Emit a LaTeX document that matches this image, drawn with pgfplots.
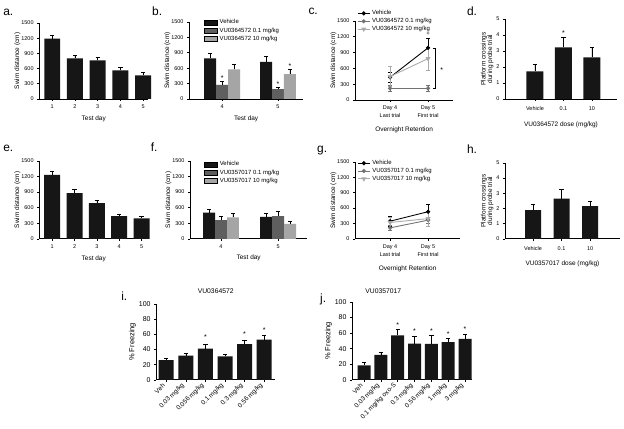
\documentclass[border=0pt]{standalone}
\usepackage{fontspec}
\setmainfont{Liberation Sans}
\usepackage{pgfplots}
\pgfplotsset{compat=1.18}

\definecolor{barblack}{RGB}{22,22,22}
\definecolor{dgray}{RGB}{95,95,95}
\definecolor{lgray}{RGB}{165,165,165}
\definecolor{lgray2}{RGB}{170,170,170}
\definecolor{mgray}{RGB}{115,115,115}

\newcommand{\fs}[1]{\fontsize{#1}{#1}\selectfont}

\pgfplotsset{
  panel/.style={scale only axis, anchor=south west, clip=false,
    axis x line*=bottom, axis y line*=left,
    axis line style={black, line width=0.9pt},
    every tick/.style={black, line width=0.6pt},
    major tick length=2.2bp, tick align=outside,
    ymin=0,
    /pgf/number format/assume math mode=true,
    /pgf/number format/set thousands separator={},
    tick label style={font=\fs{5.5}},
    label style={font=\fs{6.5}},
  },
  swim/.style={panel, ymax=1500, ytick={0,300,...,1500}, ylabel={Swim distance (cm)}, ylabel shift=-6bp},
  ebar/.style={error bars/.cd, y dir=plus, y explicit,
    error bar style={black, line width=0.6pt},
    error mark options={rotate=90, black, mark size=2.2bp, line width=0.6pt},
    /pgfplots/.cd},
  ebar2/.style={error bars/.cd, y dir=both, y explicit,
    error bar style={line width=0.6pt},
    error mark options={rotate=90, mark size=2bp, line width=0.6pt},
    /pgfplots/.cd},
  boxleg/.style={legend image code/.code={\fill[##1] (0bp,-2.6bp) rectangle (13bp,2.6bp);}},
  lineleg/.style={legend image code/.code={\draw[##1,mark repeat=2,mark phase=2] plot coordinates {(0bp,0bp) (6bp,0bp) (12bp,0bp)};}},
}

\begin{document}
\begin{tikzpicture}
\fill[white] (0,0) rectangle (624bp,-429bp);

% a. acquisition, VU0364572 cohort
\begin{axis}[swim, at={(39bp,-99bp)}, width=109bp, height=76bp,
  xmin=0.43, xmax=5.22, xtick={1,...,5}, xlabel={Test day}]
\addplot[ybar, bar width=16bp, fill=barblack, draw=none, ebar]
  table[x=x, y=y, y error=e] {
x y e
1 1190 65
2 800 65
3 760 60
4 565 65
5 465 65
};
\end{axis}

% b. VU0364572 days 4-5 (groups: -0.214 / 0 / +0.214 around the day)
\begin{axis}[swim, at={(189bp,-99bp)}, width=114bp, height=77bp,
  xmin=3.41, xmax=5.45, xtick={4,5}, xlabel={Test day}, boxleg,
  legend style={draw=none, fill=none, at={(0.13,1.06)}, anchor=north west,
    font=\fs{6}, row sep=-1.5bp, inner sep=0pt}, legend cell align=left]
\addlegendimage{fill=barblack}
\addlegendentry{Vehicle}
\addlegendimage{fill=dgray}
\addlegendentry{VU0364572 0.1 mg/kg}
\addlegendimage{fill=lgray}
\addlegendentry{VU0364572 10 mg/kg}
\addplot[ybar, bar width=12bp, fill=barblack, draw=none, forget plot, ebar]
  table[x=x, y=y, y error=e] {
x y e
3.786 790 95
4.786 725 105
};
\addplot[ybar, bar width=12bp, fill=dgray, draw=none, forget plot, ebar]
  table[x=x, y=y, y error=e] {
x y e
4 275 60
5 190 40
};
\addplot[ybar, bar width=12bp, fill=lgray, draw=none, forget plot, ebar]
  table[x=x, y=y, y error=e] {
x y e
4.214 575 95
5.214 485 90
};
\node[font=\fs{7}] at (axis cs:4,410) {*};
\node[font=\fs{7}] at (axis cs:5,295) {*};
\node[font=\fs{7}] at (axis cs:5.214,650) {*};
\end{axis}

% c. retention, VU0364572
\begin{axis}[swim, at={(355bp,-100bp)}, width=98bp, height=79bp,
  xmin=3.08, xmax=5.66, xtick={4,5},
  xticklabels={{Day 4\\Last trial},{Day 5\\First trial}},
  x tick label style={align=center, font=\fontsize{5.5}{8.5}\selectfont},
  xlabel={Overnight Retention}, xlabel shift=2bp, lineleg,
  legend style={draw=none, fill=none, at={(0.02,1.16)}, anchor=north west,
    font=\fs{6}, row sep=-2bp, inner sep=0pt}, legend cell align=left]
\addplot[black, line width=0.9pt, mark=*, mark size=1.6bp, ebar2]
  table[x=x, y=y, y error=e] {
x y e
4 430 100
5 990 175
};
\addlegendentry{Vehicle}
\addplot[mgray, line width=0.9pt, mark=*, mark size=1.6bp, ebar2]
  table[x=x, y=y, y error=e] {
x y e
4 220 60
5 220 60
};
\addlegendentry{VU0364572 0.1 mg/kg}
\addplot[lgray2, line width=0.9pt, mark=triangle*, mark size=2bp, mark options={rotate=180}, ebar2]
  table[x=x, y=y, y error=e] {
x y e
4 445 190
5 785 220
};
\addlegendentry{VU0364572 10 mg/kg}
\draw[black, line width=0.6pt] (axis cs:5.12,990) -- (axis cs:5.18,990)
  -- (axis cs:5.18,220) -- (axis cs:5.12,220);
\node[font=\fs{6}] at (axis cs:5,1265) {+};
\node[font=\fs{7}] at (axis cs:5.36,560) {*};
\end{axis}

% d. probe trial, VU0364572
\begin{axis}[panel, at={(505bp,-99bp)}, width=112bp, height=80bp,
  xmin=-0.05, xmax=3.88, ymax=5, ytick={0,...,5},
  xtick={1,2,3}, xticklabels={Vehicle,0.1,10},
  x tick label style={yshift=-2bp},
  xlabel={VU0364572 dose (mg/kg)}, xlabel shift=4bp, ylabel shift=-4bp,
  ylabel={Platform crossings\\during probe trial}, ylabel style={align=center}]
\addplot[ybar, bar width=17bp, fill=barblack, draw=none, ebar]
  table[x=x, y=y, y error=e] {
x y e
1 1.72 0.45
2 3.23 0.63
3 2.6 0.6
};
\node[font=\fs{7}] at (axis cs:2,4.1) {*};
\end{axis}

% e. acquisition, VU0357017 cohort
\begin{axis}[swim, at={(39bp,-239bp)}, width=109bp, height=78bp,
  xmin=0.42, xmax=5.3, xtick={1,...,5}, xlabel={Test day}]
\addplot[ybar, bar width=16bp, fill=barblack, draw=none, ebar]
  table[x=x, y=y, y error=e] {
x y e
1 1230 65
2 880 65
3 690 60
4 440 30
5 395 30
};
\end{axis}

% f. VU0357017 days 4-5 (groups: -0.21 / 0 / +0.21 around the day)
\begin{axis}[swim, at={(190bp,-239bp)}, width=117bp, height=78bp,
  xmin=3.46, xmax=5.51, xtick={4,5}, xlabel={Test day}, boxleg,
  legend style={draw=none, fill=none, at={(0.12,1.02)}, anchor=north west,
    font=\fs{6}, row sep=-1.5bp, inner sep=0pt}, legend cell align=left]
\addlegendimage{fill=barblack}
\addlegendentry{Vehicle}
\addlegendimage{fill=dgray}
\addlegendentry{VU0357017 0.1 mg/kg}
\addlegendimage{fill=lgray}
\addlegendentry{VU0357017 10 mg/kg}
\addplot[ybar, bar width=12bp, fill=barblack, draw=none, forget plot, ebar]
  table[x=x, y=y, y error=e] {
x y e
3.79 505 60
4.79 425 60
};
\addplot[ybar, bar width=12bp, fill=dgray, draw=none, forget plot, ebar]
  table[x=x, y=y, y error=e] {
x y e
4 360 80
5 440 95
};
\addplot[ybar, bar width=12bp, fill=lgray, draw=none, forget plot, ebar]
  table[x=x, y=y, y error=e] {
x y e
4.21 412 75
5.21 290 50
};
\end{axis}

% g. retention, VU0357017
\begin{axis}[swim, at={(355bp,-239bp)}, width=105bp, height=77bp,
  xmin=3.08, xmax=5.84, xtick={4,5},
  xticklabels={{Day 4\\Last trial},{Day 5\\First trial}},
  x tick label style={align=center, font=\fontsize{5.5}{8.5}\selectfont},
  xlabel={Overnight Retention}, xlabel shift=2bp, lineleg,
  legend style={draw=none, fill=none, at={(0.02,1.05)}, anchor=north west,
    font=\fs{6}, row sep=-2bp, inner sep=0pt}, legend cell align=left]
\addplot[black, line width=0.9pt, mark=*, mark size=1.6bp, ebar2]
  table[x=x, y=y, y error=e] {
x y e
4 345 100
5 530 150
};
\addlegendentry{Vehicle}
\addplot[mgray, line width=0.9pt, mark=*, mark size=1.6bp, ebar2]
  table[x=x, y=y, y error=e] {
x y e
4 215 50
5 365 60
};
\addlegendentry{VU0357017 0.1 mg/kg}
\addplot[lgray2, line width=0.9pt, mark=triangle*, mark size=2bp, mark options={rotate=180}, ebar2]
  table[x=x, y=y, y error=e] {
x y e
4 320 100
5 395 140
};
\addlegendentry{VU0357017 10 mg/kg}
\end{axis}

% h. probe trial, VU0357017
\begin{axis}[panel, at={(505bp,-239bp)}, width=115bp, height=76bp,
  xmin=0.02, xmax=4.05, ymax=5, ytick={0,...,5},
  xtick={1,2,3}, xticklabels={Vehicle,0.1,10},
  x tick label style={yshift=-2bp},
  xlabel={VU0357017 dose (mg/kg)}, xlabel shift=3bp, ylabel shift=-4bp,
  ylabel={Platform crossings\\during probe trial}, ylabel style={align=center}]
\addplot[ybar, bar width=16bp, fill=barblack, draw=none, ebar]
  table[x=x, y=y, y error=e] {
x y e
1 1.89 0.4
2 2.65 0.6
3 2.15 0.35
};
\end{axis}

% i. fear conditioning, VU0364572
\begin{axis}[panel, at={(156bp,-380bp)}, width=119bp, height=76bp,
  xmin=0.49, xmax=6.56, ymax=100, ytick={0,20,...,100},
  xtick={1,...,6},
  xticklabels={Veh,0.03 mg/kg,0.056 mg/kg,0.1 mg/kg,0.3 mg/kg,0.56 mg/kg},
  y tick label style={font=\fs{7}},
  x tick label style={font=\fs{6.5}, rotate=45, anchor=east},
  ylabel={\% Freezing}, ylabel style={font=\fs{7.5}}, ylabel shift=-4bp]
\addplot[ybar, bar width=15bp, fill=barblack, draw=none, ebar]
  table[x=x, y=y, y error=e] {
x y e
1 26 2.5
2 32 2.5
3 41 5.5
4 31 2.5
5 47 5
6 53 5
};
\node[font=\fs{7}] at (axis cs:3,56) {*};
\node[font=\fs{7}] at (axis cs:5,60) {*};
\node[font=\fs{7}] at (axis cs:6,65) {*};
\node[font=\fs{6.8}] at (rel axis cs:0.5,1) [yshift=13bp] {VU0364572};
\end{axis}

% j. fear conditioning, VU0357017
\begin{axis}[panel, at={(352bp,-380bp)}, width=120bp, height=78bp,
  xmin=0.29, xmax=7.42, ymax=100, ytick={0,20,...,100},
  xtick={1,...,7},
  xticklabels={Veh,0.03 mg/kg,0.1 mg/kg oxo-S,0.3 mg/kg,0.56 mg/kg,1 mg/kg,3 mg/kg},
  y tick label style={font=\fs{7}},
  x tick label style={font=\fs{6.5}, rotate=45, anchor=east},
  ylabel={\% Freezing}, ylabel style={font=\fs{7.5}}, ylabel shift=-4bp]
\addplot[ybar, bar width=13bp, fill=barblack, draw=none, ebar]
  table[x=x, y=y, y error=e] {
x y e
1 18.5 4
2 32 3.5
3 57 7.5
4 46.5 9.5
5 46 11
6 48.5 5
7 52.5 6.5
};
\node[font=\fs{7}] at (axis cs:3,70) {*};
\node[font=\fs{7}] at (axis cs:4,63) {*};
\node[font=\fs{7}] at (axis cs:5,63) {*};
\node[font=\fs{7}] at (axis cs:6,59) {*};
\node[font=\fs{7}] at (axis cs:7,65) {*};
\node[font=\fs{6.8}] at (rel axis cs:0.26,1) [yshift=11bp] {VU0357017};
\end{axis}

% panel letters
\begin{scope}[every node/.style={font=\fs{12}}]
\node at (8bp,-12bp) {a.};
\node at (157bp,-11bp) {b.};
\node at (313bp,-11bp) {c.};
\node at (472bp,-11bp) {d.};
\node at (8bp,-148bp) {e.};
\node at (154bp,-147bp) {f.};
\node at (322bp,-151bp) {g.};
\node at (472bp,-149bp) {h.};
\node at (124bp,-296bp) {i.};
\node at (323bp,-300bp) {j.};
\end{scope}
\end{tikzpicture}
\end{document}
